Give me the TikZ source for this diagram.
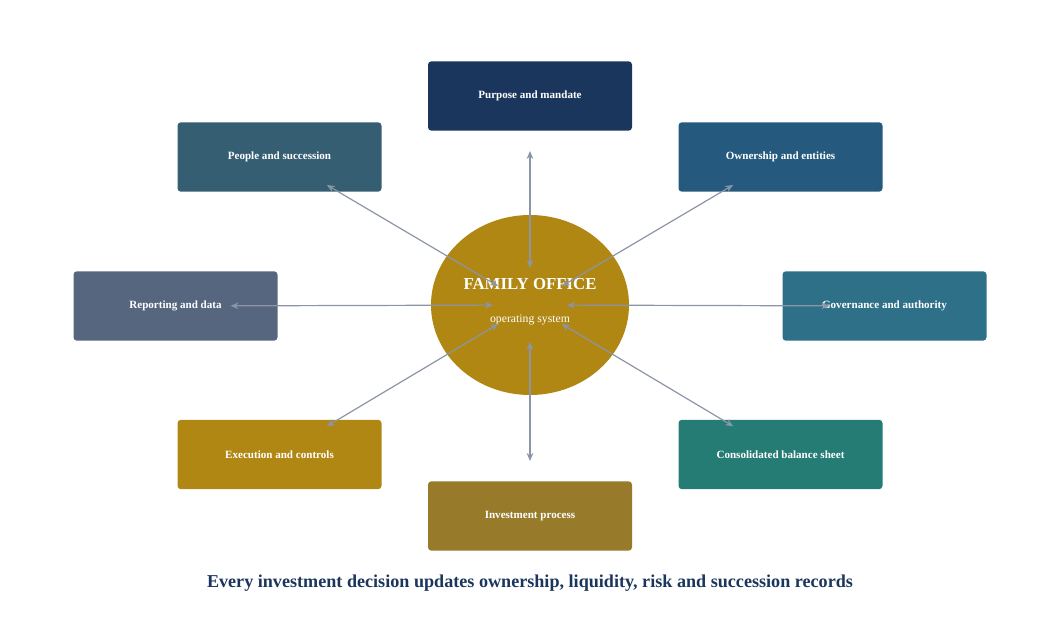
\documentclass[tikz,border=0pt]{standalone}
\usepackage{fontspec}
\setmainfont{Liberation Serif}
\usetikzlibrary{arrows.meta}
\usetikzlibrary{shapes.geometric}

\definecolor{navy}{HTML}{1B365D}
\definecolor{slateteal}{HTML}{365E72}
\definecolor{steelblue}{HTML}{255A7E}
\definecolor{slategray}{HTML}{56667E}
\definecolor{petrol}{HTML}{2E7088}
\definecolor{ochre}{HTML}{B08713}
\definecolor{seateal}{HTML}{247C74}
\definecolor{bronze}{HTML}{977B2A}
\definecolor{linkgray}{HTML}{8C95A5}

\begin{document}
\begin{tikzpicture}[x=0.75pt,y=-0.75pt,
    card/.style={minimum width=153pt,minimum height=52pt,inner sep=0pt,
      rounded corners=2.5pt,text=white,font=\fontsize{8.3}{10}\selectfont\bfseries},
    link/.style={{Stealth[length=6pt,width=5pt]}-{Stealth[length=6pt,width=5pt]},
      draw=linkgray,line width=0.9pt,shorten <=27.75pt,shorten >=41.25pt}]
        \useasboundingbox (0,0) rectangle (1060,620);
        % the eight areas round the office
        \node[card,fill=navy]       (purpose)    at (530,96)  {Purpose and mandate};
        \node[card,fill=slateteal]  (people)     at (279.5,157) {People and succession};
        \node[card,fill=steelblue]  (ownership)  at (780.5,157) {Ownership and entities};
        \node[card,fill=slategray]  (reporting)  at (175.5,306) {Reporting and data};
        \node[card,fill=petrol]     (governance) at (884.5,306) {Governance and authority};
        \node[card,fill=ochre]      (execution)  at (279.5,454.5) {Execution and controls};
        \node[card,fill=seateal]    (balance)    at (780.5,454.5) {Consolidated balance sheet};
        \node[card,fill=bronze]     (investment) at (530,516) {Investment process};
        % the office itself
        \node[ellipse,fill=ochre,minimum width=148.5pt,minimum height=135pt,inner sep=0pt]
          (core) at (530,305) {};
        \node[text=white,font=\fontsize{12.6}{14}\selectfont\bfseries] (coretitle) at (530,284) {FAMILY OFFICE};
        \node[text=white,font=\fontsize{8.8}{11}\selectfont] (coresub) at (530,320) {operating system};
        \foreach \x in {purpose,people,ownership,reporting,governance,execution,balance,investment} {
          \draw[link] (core.center) -- (\x.center);
        }
        \node[text=navy,font=\fontsize{13.6}{16}\selectfont\bfseries] (caption) at (530,583)
          {Every investment decision updates ownership, liquidity, risk and succession records};
      \end{tikzpicture}
\end{document}
